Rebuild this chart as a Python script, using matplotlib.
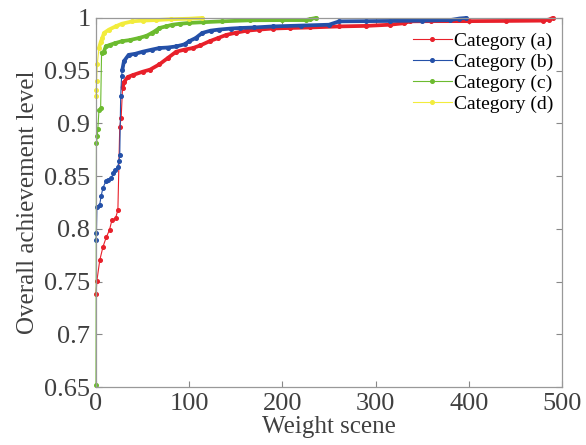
import matplotlib.pyplot as plt
from matplotlib.ticker import FuncFormatter

# values
red_x = [0, 1, 4, 7.5, 11, 14.5, 17, 21, 23.5, 25.5, 27, 28.5, 30, 34, 40, 50, 58, 68, 77, 86, 95,
         104, 112, 122, 131, 140, 150, 162, 175, 190, 208, 230, 261, 290, 315, 330, 337, 360, 400,
         440, 480, 486, 490]
red_y = [0.738, 0.751, 0.770, 0.783, 0.792, 0.799, 0.808, 0.810, 0.818, 0.897, 0.905, 0.934, 0.939,
         0.944, 0.946, 0.949, 0.951, 0.956, 0.962, 0.968, 0.970, 0.9715, 0.974, 0.978, 0.981, 0.984,
         0.986, 0.988, 0.989, 0.990, 0.9905, 0.991, 0.992, 0.9925, 0.9936, 0.995, 0.9968, 0.997,
         0.997, 0.9972, 0.9975, 0.9985, 1.0]

blue_x = [0, 0.5, 1, 4, 5.5, 7.5, 10.5, 13, 16.5, 18.5, 20, 23.5, 24.5, 25.5, 26.5, 27.5, 28.3, 30,
          35, 42, 50, 60, 68, 77, 86, 95, 100, 107, 114, 123, 132, 145, 155, 170, 190, 220, 250,
          261, 290, 315, 350, 380, 390, 397]
blue_y = [0.789, 0.796, 0.821, 0.823, 0.831, 0.839, 0.845, 0.846, 0.848, 0.853, 0.856, 0.859, 0.864,
          0.870, 0.926, 0.945, 0.951, 0.959, 0.965, 0.966, 0.968, 0.970, 0.9715, 0.972, 0.973,
          0.975, 0.978, 0.981, 0.9858, 0.988, 0.989, 0.990, 0.9905, 0.991, 0.992, 0.9928, 0.9936,
          0.9968, 0.997, 0.9972, 0.9975, 0.998, 0.9995, 1.0]

green_x = [0, 0.5, 1.5, 2, 3.2, 5, 6, 8.5, 10.5, 15, 20, 28, 36, 46, 54, 60, 64, 68, 75, 82, 90,
           100, 115, 135, 165, 200, 225, 230, 236]
green_y = [0.652, 0.881, 0.888, 0.895, 0.913, 0.915, 0.967, 0.968, 0.973, 0.9745, 0.976, 0.978,
           0.979, 0.981, 0.983, 0.9858, 0.988, 0.9905, 0.992, 0.9936, 0.9945, 0.9953, 0.996,
           0.9968, 0.9978, 0.998, 0.998, 0.999, 1.0]

yellow_x = [0, 0.3, 0.6, 1.4, 3.2, 5, 6.8, 8.6, 14, 21, 28, 39, 50, 64, 80, 100, 114]
yellow_y = [0.926, 0.932, 0.940, 0.956, 0.9715, 0.977, 0.981, 0.9858, 0.989, 0.992, 0.9946,
            0.9968, 0.9975, 0.998, 0.9988, 0.9993, 1.0]

labels = ["Category (a)", "Category (b)", "Category (c)", "Category (d)"]
colors = ["#e8202a", "#2450a8", "#6cbb2f", "#f2ec3c"]
series = [(red_x, red_y), (blue_x, blue_y), (green_x, green_y), (yellow_x, yellow_y)]
# index where the densely sampled (thick looking) part of each curve starts
dense_start = [11, 16, 6, 4]

plt.rcParams["font.family"] = ["Liberation Serif", "DejaVu Serif"]

fig = plt.figure(figsize=(5.86, 4.45), dpi=100)
ax = fig.add_axes([0.1638, 0.1303, 0.7952, 0.8293])

handles = []
for (xs, ys), c, lab, k in zip(series, colors, labels, dense_start):
    h, = ax.plot(xs, ys, color=c, lw=0.8, marker="o", ms=2.6, label=lab, clip_on=False)
    ax.plot(xs[k:], ys[k:], color=c, lw=2.7, solid_capstyle="round", clip_on=False)
    handles.append(h)

ax.set_xlim(0, 500)
ax.set_ylim(0.65, 1.0)
ax.set_xticks([0, 100, 200, 300, 400, 500])
ax.set_yticks([0.65, 0.7, 0.75, 0.8, 0.85, 0.9, 0.95, 1.0])
ax.yaxis.set_major_formatter(FuncFormatter(lambda v, p: "%g" % round(v, 2)))

ax.tick_params(direction="in", top=True, right=True, length=4, width=0.8,
               color="#888888", labelsize=19, labelcolor="#404040", pad=4)
for s in ax.spines.values():
    s.set_color("#999999")
    s.set_linewidth(0.9)

ax.set_xlabel("Weight scene", fontsize=18, color="#404040", labelpad=1)
ax.set_ylabel("Overall achievement level", fontsize=18, color="#404040", labelpad=4)

ax.legend(handles=handles, loc="upper right", bbox_to_anchor=(1.0, 0.985), frameon=False,
          fontsize=14, handlelength=2.0, handletextpad=0.1, labelspacing=0.17,
          borderaxespad=0.05)

fig.savefig("out.png", dpi=100)
